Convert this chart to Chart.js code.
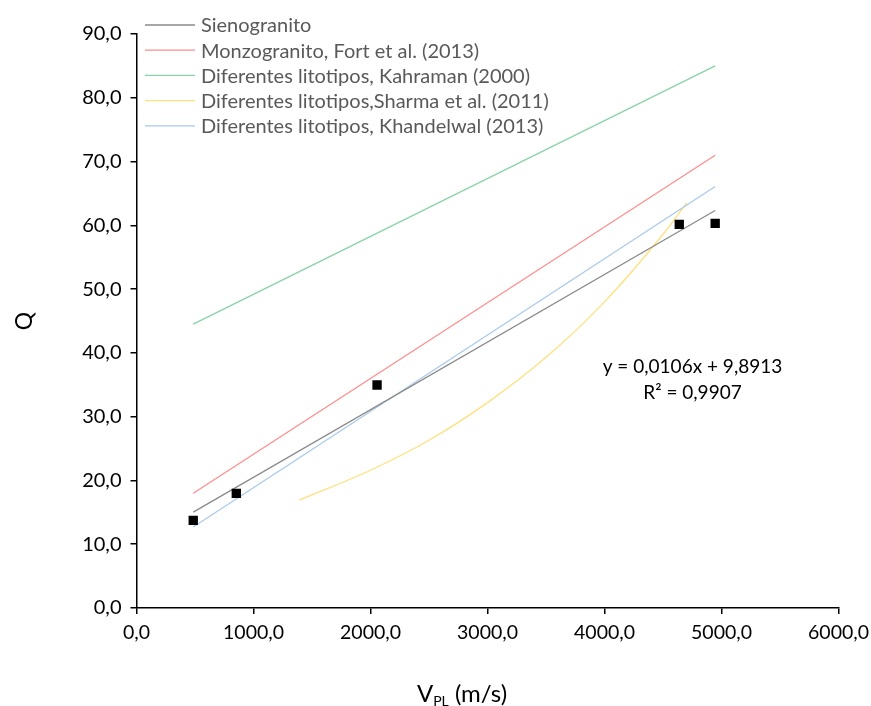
<!DOCTYPE html>
<html>
<head>
<meta charset="utf-8">
<script src="https://cdn.jsdelivr.net/npm/chart.js@4"></script>
<style>
  html, body { margin: 0; padding: 0; background: #fff; }
  #wrap { width: 871px; height: 706px; position: relative; }
</style>
</head>
<body>
<div id="wrap"><canvas id="c" width="871" height="706"></canvas></div>
<script>
// Measured samples: Sienogranito
const sienoX = [485, 853, 2056, 4639, 4946];
const sienoQ = [13.75, 17.98, 34.96, 60.16, 60.3];

// Linear fit of the Sienogranito samples (as printed on the chart)
const fitSlope = 0.0106;
const fitIntercept = 9.8913;
const fitR2 = '0,9907';

// Published correlations, drawn over the measured velocity range
const monzoX = [485, 4946];
const monzoQ = [18.0, 71.0];

const kahramanX = [485, 4946];
const kahramanQ = [44.5, 85.0];

const sharmaX = [1391, 2000, 2500, 3000, 3500, 4000, 4500, 4703];
const sharmaQ = [16.9, 21.6, 26.3, 32.2, 39.3, 48.0, 58.6, 63.5];

const khandelwalX = [485, 4946];
const khandelwalQ = [12.7, 66.1];

const seriesLabels = [
  'Sienogranito',
  'Monzogranito, Fort et al. (2013)',
  'Diferentes litotipos, Kahraman (2000)',
  'Diferentes litotipos,Sharma et al. (2011)',
  'Diferentes litotipos, Khandelwal (2013)'
];
const seriesColors = ['#8a8a8a', '#ff8e8e', '#88d4a6', '#ffe07e', '#a9caec'];

const xTickLabels = ['0,0', '1000,0', '2000,0', '3000,0', '4000,0', '5000,0', '6000,0'];
const yTickLabels = ['0,0', '10,0', '20,0', '30,0', '40,0', '50,0', '60,0', '70,0', '80,0', '90,0'];

const FONT = 'Lato, "Liberation Sans", sans-serif';

function pts(xs, ys) { return xs.map((x, i) => ({ x: x, y: ys[i] })); }

const fitX = [sienoX[0], sienoX[sienoX.length - 1]];
const fitPts = fitX.map(x => ({ x: x, y: fitSlope * x + fitIntercept }));

function lineSet(label, data, color, extra) {
  return Object.assign({
    label: label,
    data: data,
    showLine: true,
    borderColor: color,
    backgroundColor: color,
    borderWidth: 1.3,
    pointRadius: 0,
    pointHoverRadius: 0,
    fill: false
  }, extra || {});
}

const datasets = [
  {
    label: 'Sienogranito (datos)',
    data: pts(sienoX, sienoQ),
    showLine: false,
    pointStyle: 'rect',
    pointRadius: 6.6,
    pointHoverRadius: 6.6,
    backgroundColor: '#000',
    borderColor: '#000',
    borderWidth: 0
  },
  lineSet(seriesLabels[0], fitPts, seriesColors[0]),
  lineSet(seriesLabels[4], pts(khandelwalX, khandelwalQ), seriesColors[4]),
  lineSet(seriesLabels[3], pts(sharmaX, sharmaQ), seriesColors[3], { cubicInterpolationMode: 'monotone' }),
  lineSet(seriesLabels[2], pts(kahramanX, kahramanQ), seriesColors[2]),
  lineSet(seriesLabels[1], pts(monzoX, monzoQ), seriesColors[1])
];

// Legend, axis titles and the regression equation
const decorations = {
  id: 'decorations',
  afterDraw(chart) {
    const ctx = chart.ctx;
    const xs = chart.scales.x, ys = chart.scales.y;
    ctx.save();

    // legend in the upper left of the plot
    ctx.font = '20px ' + FONT;
    ctx.textBaseline = 'middle';
    ctx.textAlign = 'left';
    seriesLabels.forEach((lab, i) => {
      const yy = 25 + i * 25.2;
      ctx.strokeStyle = seriesColors[i];
      ctx.lineWidth = 1.3;
      ctx.beginPath();
      ctx.moveTo(145, yy);
      ctx.lineTo(195, yy);
      ctx.stroke();
      ctx.fillStyle = '#595959';
      ctx.fillText(lab, 201, yy + 1);
    });

    // regression equation
    ctx.fillStyle = '#000';
    ctx.textAlign = 'center';
    ctx.font = '19px ' + FONT;
    const eqX = xs.getPixelForValue(4752);
    const eqY = ys.getPixelForValue(37.8);
    const eq = 'y = ' + String(fitSlope).replace('.', ',') + 'x + ' + String(fitIntercept).replace('.', ',');
    ctx.fillText(eq, eqX, eqY);
    ctx.fillText('R\u00B2 = ' + fitR2, eqX, eqY + 26);

    // y-axis title
    ctx.fillStyle = '#000';
    ctx.font = '23px ' + FONT;
    ctx.save();
    ctx.translate(25, 321);
    ctx.rotate(-Math.PI / 2);
    ctx.textAlign = 'center';
    ctx.fillText('Q', 0, 0);
    ctx.restore();

    // x-axis title with subscript
    const big = '24px ' + FONT, small = '14px ' + FONT;
    ctx.textAlign = 'left';
    ctx.font = big;
    const wV = ctx.measureText('V').width;
    const wRest = ctx.measureText(' (m/s)').width;
    ctx.font = small;
    const wSub = ctx.measureText('PL').width;
    let tx = 462 - (wV + wSub + wRest) / 2;
    const ty = 694;
    ctx.font = big;
    ctx.fillText('V', tx, ty);
    tx += wV;
    ctx.font = small;
    ctx.fillText('PL', tx, ty + 7);
    tx += wSub;
    ctx.font = big;
    ctx.fillText(' (m/s)', tx, ty);

    ctx.restore();
  }
};

new Chart(document.getElementById('c'), {
  type: 'scatter',
  data: { datasets: datasets },
  options: {
    responsive: false,
    animation: false,
    layout: { padding: { top: 34, right: 32.5, left: 0, bottom: 0 } },
    plugins: {
      legend: { display: false },
      tooltip: { enabled: false }
    },
    scales: {
      x: {
        type: 'linear',
        min: 0, max: 6000,
        afterFit(scale) {
          scale.height = 98;
          scale.paddingLeft = 0;
          scale.paddingRight = 0;
        },
        afterBuildTicks(scale) {
          scale.ticks = xTickLabels.map((_, i) => ({ value: i * 1000 }));
        },
        ticks: {
          callback: (v, i) => xTickLabels[i],
          color: '#000',
          font: { family: FONT, size: 19.5 },
          padding: 7,
          maxRotation: 0,
          autoSkip: false
        },
        grid: { display: true, drawOnChartArea: false, drawTicks: true, tickLength: 6, color: '#000', lineWidth: 1.5 },
        border: { display: true, color: '#000', width: 1.5 }
      },
      y: {
        type: 'linear',
        min: 0, max: 90,
        afterFit(scale) {
          scale.width = 136.5;
          scale.paddingTop = 0;
          scale.paddingBottom = 0;
        },
        afterBuildTicks(scale) {
          scale.ticks = yTickLabels.map((_, i) => ({ value: i * 10 }));
        },
        ticks: {
          callback: (v, i) => yTickLabels[i],
          color: '#000',
          font: { family: FONT, size: 20 },
          padding: 9,
          autoSkip: false
        },
        grid: { display: true, drawOnChartArea: false, drawTicks: true, tickLength: 6, color: '#000', lineWidth: 1.5 },
        border: { display: true, color: '#000', width: 1.5 }
      }
    }
  },
  plugins: [decorations]
});
</script>
</body>
</html>
